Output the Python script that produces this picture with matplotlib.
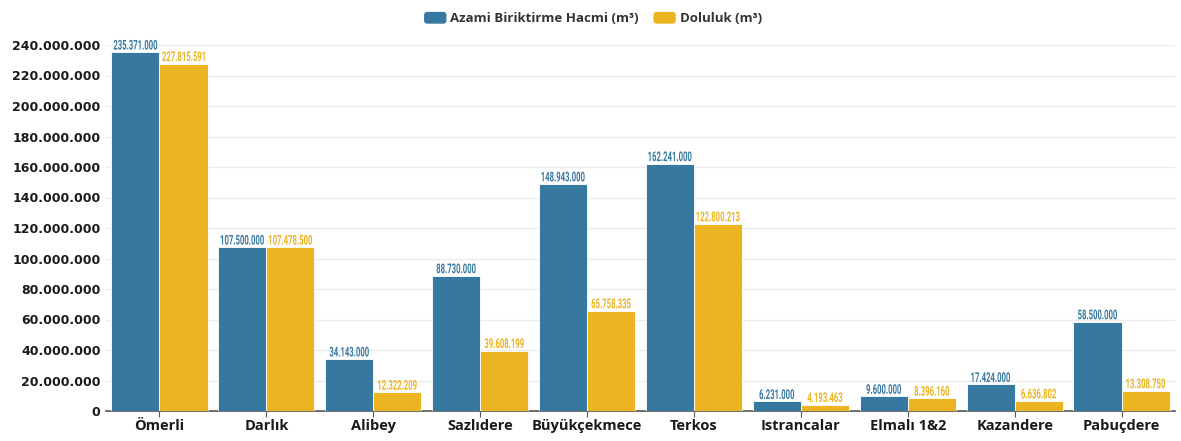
import numpy as np
import matplotlib.pyplot as plt
from matplotlib.ticker import FuncFormatter, MultipleLocator
from matplotlib.textpath import TextPath
from matplotlib.patches import PathPatch, FancyBboxPatch
from matplotlib.font_manager import FontProperties
from matplotlib.transforms import Affine2D, ScaledTranslation
from matplotlib.legend_handler import HandlerPatch
from matplotlib.container import BarContainer

# reservoirs
categories = ["Ömerli", "Darlık", "Alibey", "Sazlıdere", "Büyükçekmece",
              "Terkos", "Istrancalar", "Elmalı 1&2", "Kazandere", "Pabuçdere"]
azami = [235371000, 107500000, 34143000, 88730000, 148943000,
         162241000, 6231000, 9600000, 17424000, 58500000]
doluluk = [227815591, 107478500, 12322209, 39608199, 65758335,
           122800213, 4193463, 8396160, 6636802, 13308750]
series_names = ["Azami Biriktirme Hacmi (m³)", "Doluluk (m³)"]

blue = "#3678a0"
yellow = "#edb421"


def dotted(v, pos=None):
    return f"{int(v):,}".replace(",", ".")


# condensed value labels: text drawn as a path, squeezed horizontally
label_font = FontProperties(family="Roboto", weight="bold")


def narrow_label(ax, xd, yd, s, color, size=13.5, squeeze=0.57, lift=2.5):
    tp = TextPath((0, 0), s, size=size, prop=label_font)
    ext = tp.get_extents()
    tr = (Affine2D().translate(-(ext.x0 + ext.x1) / 2, lift).scale(squeeze, 1)
          + ScaledTranslation(xd, yd, ax.transData))
    ax.add_patch(PathPatch(tp, transform=tr, color=color, lw=0, zorder=4,
                           clip_on=False))


class RoundBox(HandlerPatch):
    def create_artists(self, legend, orig, xd, yd, width, height, fontsize, trans):
        src = orig.patches[0] if isinstance(orig, BarContainer) else orig
        p = FancyBboxPatch((-xd, -yd), width, height,
                           boxstyle="round,pad=0,rounding_size=2.5",
                           facecolor=src.get_facecolor(), edgecolor="none",
                           transform=trans)
        return [p]


fig = plt.figure(figsize=(11.81, 4.41), dpi=100)
ax = fig.add_axes([106 / 1181, 30 / 441, 1069 / 1181, 366 / 441])

x = np.arange(len(categories))
w = 0.45
b1 = ax.bar(x - w / 2, azami, w, color=blue, edgecolor="white", linewidth=0.6,
            label=series_names[0], zorder=3)
b2 = ax.bar(x + w / 2, doluluk, w, color=yellow, edgecolor="white", linewidth=0.6,
            label=series_names[1], zorder=3)

for bars, vals, c in [(b1, azami, blue), (b2, doluluk, yellow)]:
    for r, v in zip(bars, vals):
        narrow_label(ax, r.get_x() + r.get_width() / 2, v, dotted(v), c)

ax.set_xlim(-0.5, 9.5)
ax.set_ylim(0, 240e6)
ax.yaxis.set_major_locator(MultipleLocator(20e6))
ax.yaxis.set_major_formatter(FuncFormatter(dotted))
ax.grid(axis="y", color="#ececec", linewidth=1, zorder=0)

ax.set_xticks(x)
ax.set_xticklabels(categories, fontsize=10.5, fontweight="bold", family="Open Sans",
                   color="#1a1a1a")
ax.tick_params(axis="x", length=4, color="#555555", pad=2)
ax.tick_params(axis="y", length=0, labelsize=9, pad=4)
for t in ax.get_yticklabels():
    t.set_fontweight("bold")
    t.set_color("#1a1a1a")

for s in ["top", "right", "left"]:
    ax.spines[s].set_visible(False)
ax.spines["bottom"].set_color("#555555")
ax.spines["bottom"].set_linewidth(1.2)

leg = fig.legend(loc="upper center", bbox_to_anchor=(593 / 1181, 1.0), ncol=2,
                 frameon=False, handlelength=1.7, handleheight=1.0,
                 columnspacing=1.1, handletextpad=0.3,
                 handler_map={BarContainer: RoundBox()},
                 prop={"weight": "bold", "family": "Open Sans", "size": 9.5})
for t in leg.get_texts():
    t.set_color("#333333")

fig.savefig("out.png", dpi=100)
